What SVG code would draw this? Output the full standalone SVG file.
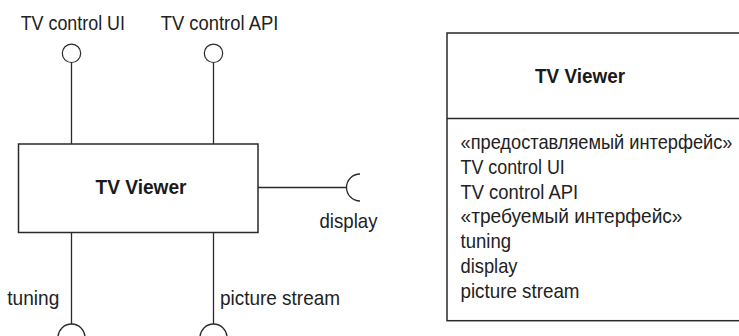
<svg xmlns="http://www.w3.org/2000/svg" width="739" height="336" viewBox="0 0 739 336">
<style>
.ln{stroke:#2a2a2a;stroke-width:1.3;fill:none}
.box{stroke:#2a2a2a;stroke-width:1.5;fill:#fff}
.ball{stroke:#2a2a2a;stroke-width:1.2;fill:#fff}
.t{font-family:"Liberation Sans",Arial,sans-serif;font-size:21px;fill:#222}
.b{font-family:"Liberation Sans",Arial,sans-serif;font-size:21px;font-weight:bold;fill:#1a1a1a}
</style>
<rect width="739" height="336" fill="#fff"/>
<g id="connectors">
<line class="ln" x1="71.5" y1="62.5" x2="71.5" y2="144"/>
<line class="ln" x1="213.5" y1="62.5" x2="213.5" y2="144"/>
<line class="ln" x1="71.5" y1="232.5" x2="71.5" y2="324"/>
<line class="ln" x1="213.5" y1="232.5" x2="213.5" y2="324"/>
<line class="ln" x1="258" y1="187.5" x2="346.5" y2="187.5"/>
</g>
<g id="tv-viewer">
<rect class="box" x="18.5" y="144" width="239.5" height="88.5"/>
<text class="b" x="141" y="194" text-anchor="middle" textLength="91" lengthAdjust="spacingAndGlyphs">TV Viewer</text>
</g>
<g id="tv-control-ui">
<circle class="ball" cx="71.5" cy="53.3" r="9.2"/>
<text class="t" x="20.7" y="30" textLength="104.3" lengthAdjust="spacingAndGlyphs">TV control UI</text>
</g>
<g id="tv-control-api">
<circle class="ball" cx="213.5" cy="53.3" r="9.2"/>
<text class="t" x="160.7" y="30" textLength="117.6" lengthAdjust="spacingAndGlyphs">TV control API</text>
</g>
<g id="display">
<path class="ln" d="M360,174 A13.5,13.5 0 0 0 360,201"/>
<text class="t" x="319.5" y="227.5" textLength="58" lengthAdjust="spacingAndGlyphs">display</text>
</g>
<g id="tuning">
<path class="ln" d="M58,337.5 A13.5,13.5 0 0 1 85,337.5"/>
<text class="t" x="7.3" y="305" textLength="52" lengthAdjust="spacingAndGlyphs">tuning</text>
</g>
<g id="picture-stream">
<path class="ln" d="M200,337.5 A13.5,13.5 0 0 1 227,337.5"/>
<text class="t" x="220" y="305" textLength="120" lengthAdjust="spacingAndGlyphs">picture stream</text>
</g>
<g id="tv-viewer-class">
<rect class="box" x="447" y="33" width="310" height="287.7"/>
<line class="ln" x1="447" y1="118.5" x2="740" y2="118.5"/>
<text class="b" x="580" y="83.3" text-anchor="middle" textLength="90" lengthAdjust="spacingAndGlyphs">TV Viewer</text>
<text class="t" x="460.5" y="149" textLength="272" lengthAdjust="spacingAndGlyphs">«предоставляемый интерфейс»</text>
<text class="t" x="460.5" y="174" textLength="104.3" lengthAdjust="spacingAndGlyphs">TV control UI</text>
<text class="t" x="460.5" y="198.5" textLength="117.6" lengthAdjust="spacingAndGlyphs">TV control API</text>
<text class="t" x="460.5" y="223" textLength="222" lengthAdjust="spacingAndGlyphs">«требуемый интерфейс»</text>
<text class="t" x="460.5" y="248" textLength="50.5" lengthAdjust="spacingAndGlyphs">tuning</text>
<text class="t" x="460.5" y="272.5" textLength="57" lengthAdjust="spacingAndGlyphs">display</text>
<text class="t" x="460.5" y="297.5" textLength="119" lengthAdjust="spacingAndGlyphs">picture stream</text>
</g>
</svg>
